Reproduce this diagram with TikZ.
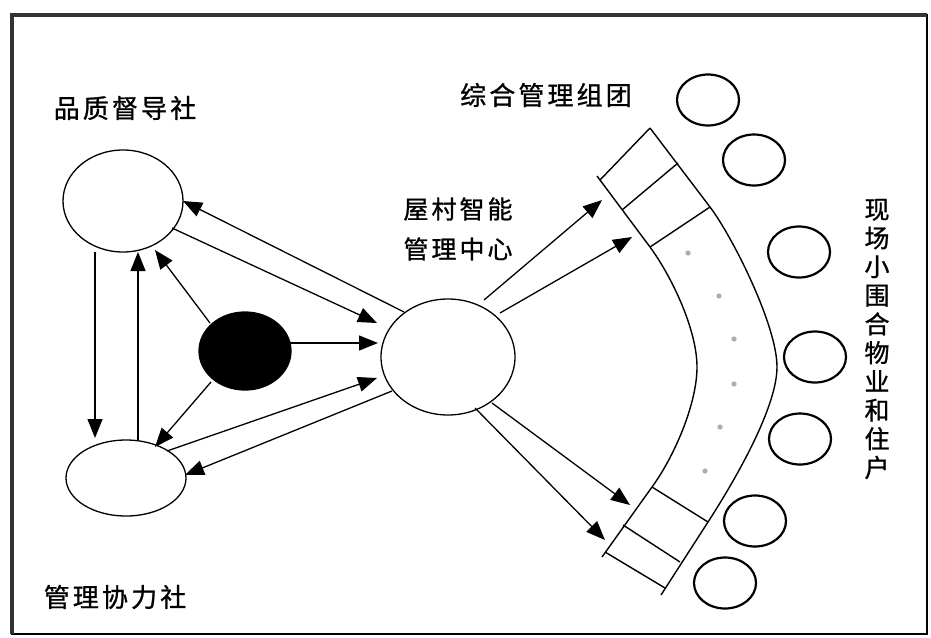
\documentclass[tikz,border=0pt]{standalone}
\usepackage{fontspec}
\newfontfamily\cjk[LetterSpace=12,FakeBold=1]{Noto Sans CJK SC}
\usetikzlibrary{arrows.meta,shapes.geometric,calc}
\begin{document}
\begin{tikzpicture}[x=1pt,y=-1pt,
  unit/.style={ellipse,draw,line width=1.3pt,inner sep=0pt},
  resident/.style={ellipse,draw,line width=2.2pt,inner sep=0pt,minimum width=62pt,minimum height=51pt},
  arr/.style={line width=1.3pt,-{Triangle[length=19pt,width=15pt]}},
  band/.style={line width=1.4pt},
  lbl/.style={font=\cjk\fontsize{26}{30}\selectfont,inner sep=0pt},
  dot/.style={fill=gray!65}]
\useasboundingbox (0,0) rectangle (931,637);
% outer frame
\draw[line width=2pt] (12,15) rectangle (927,634);
\draw[line width=4.5pt,black!80] (12,634) -- (12,15) -- (927,15);

% organisation units
\node[unit,minimum width=120pt,minimum height=102pt] (Q) at (123,201) {};
\node[unit,minimum width=120pt,minimum height=76pt] (M) at (126,478) {};
\node[unit,fill=black,minimum width=92pt,minimum height=78pt] (B) at (245,351) {};
\node[unit,minimum width=134pt,minimum height=116pt] (C) at (448,357) {};

% residents around the band
\node[resident] (s1) at (708,100) {};
\node[resident] (s2) at (754,160) {};
\node[resident] (s3) at (799,252) {};
\node[resident] (s4) at (815,357) {};
\node[resident] (s5) at (800,439) {};
\node[resident] (s6) at (755,521) {};
\node[resident] (s7) at (725,583) {};

% labels
\node[lbl] (lq) at (125,108) {品质督导社};
\node[lbl] (lm) at (115,597) {管理协力社};
\node[font=\cjk\fontsize{25}{40}\selectfont,inner sep=0pt,align=center] (lc) at (458,229) {屋村智能\\管理中心};
\node[lbl] (lg) at (546,95) {综合管理组团};
\node[font=\cjk\fontsize{25}{28.7}\selectfont,inner sep=0pt,align=center] (lr) at (877,339)
  {现\\场\\小\\围\\合\\物\\业\\和\\住\\户};

% band of management groups
\coordinate (i1) at (600,180); \coordinate (o1) at (650,128);
\coordinate (i2) at (622,210); \coordinate (o2) at (678,163);
\coordinate (i3) at (650,247); \coordinate (o3) at (710,207);
\coordinate (i4) at (652,487); \coordinate (o4) at (708,522);
\coordinate (i5) at (623,525); \coordinate (o5) at (680,562);
\coordinate (i6) at (605,552); \coordinate (o6) at (665,588);
\coordinate (ia) at (697,367); \coordinate (oa) at (777,367);
\draw[band] (597,176) -- (i3) .. controls (672,277) and (697,330) .. (ia)
  .. controls (697,404) and (674,457) .. (i4) -- (602,557);
\draw[band] (o1) -- (o3) .. controls (732,236) and (777,325) .. (oa)
  .. controls (777,410) and (730,488) .. (o4) -- (661,595);
\foreach \k in {1,...,6} \draw[band] (i\k) -- (o\k);

% dots between the group boxes
\foreach \p in {(688,253),(719,296),(734,339),(734,384),(720,427),(705,471)}
  \fill[dot] \p circle[radius=2.6pt];

% arrow tips at the band
\coordinate (t1) at (602,200);
\coordinate (t2) at (632,237);
\coordinate (t3) at (605,540);
\coordinate (t4) at (630,505);

% links among the units
\draw[arr] ($(Q)+(-28,51)$) -- ($(M)+(-31,-40)$);
\draw[arr] ($(M)+(12,-38)$) -- ($(Q)+(15,51)$);
\draw[arr] ($(B)+(-35,-28)$) -- ($(Q)+(32,49)$);
\draw[arr] ($(B)+(-34,31)$) -- ($(M)+(29,-31)$);
\draw[arr] ($(B)+(45,-8)$) -- ($(C)+(-70,-14)$);
\draw[arr] ($(Q)+(49,27)$) -- ($(C)+(-71,-34)$);
\draw[arr] ($(C)+(-44,-45)$) -- ($(Q)+(60,0)$);
\draw[arr] ($(M)+(41,-27)$) -- ($(C)+(-71,21)$);
\draw[arr] ($(C)+(-56,34)$) -- ($(M)+(59,-3)$);

% links from the centre to the band
\draw[arr] ($(C)+(36,-57)$) -- (t1);
\draw[arr] ($(C)+(52,-44)$) -- (t2);
\draw[arr] ($(C)+(27,51)$) -- (t3);
\draw[arr] ($(C)+(44,46)$) -- (t4);
\end{tikzpicture}
\end{document}
